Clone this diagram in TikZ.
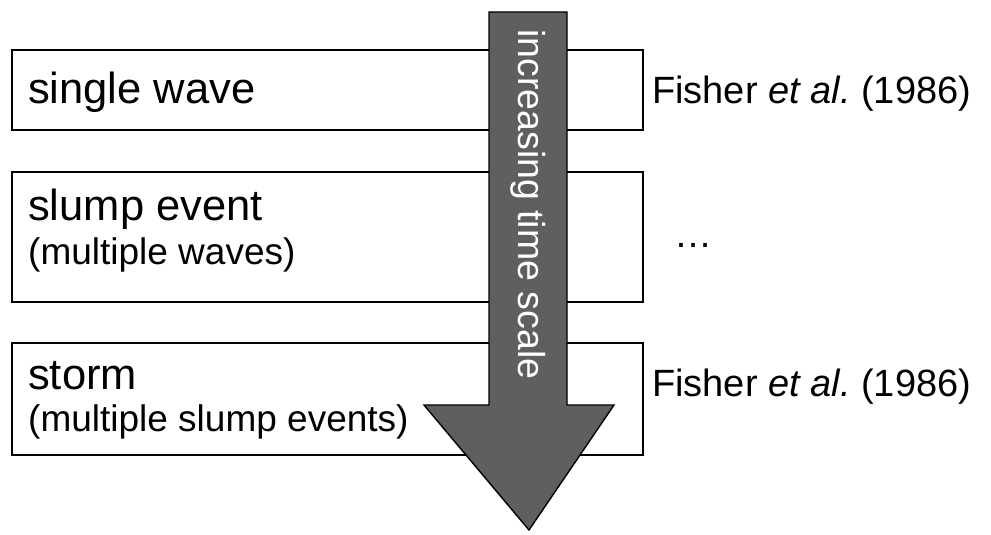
\documentclass[tikz,border=0pt]{standalone}
\usepackage{fontspec}
\setmainfont{Liberation Sans}
\frenchspacing
\begin{document}
\begin{tikzpicture}[x=1pt,y=-1pt,
  levelbox/.style={draw=black, line width=1.4pt, fill=white},
  mainlbl/.style={anchor=base west, inner sep=0pt, font=\fontsize{43.5}{50}\selectfont},
  sublbl/.style={anchor=base west, inner sep=0pt, font=\fontsize{37}{44}\selectfont},
  reflbl/.style={anchor=base west, inner sep=0pt, font=\fontsize{38}{44}\selectfont},
  timearrow/.style={draw=black, line width=1.4pt, fill=arrowgray, line join=miter},
]
\definecolor{arrowgray}{RGB}{95,95,95}
\useasboundingbox (0,0) rectangle (991,535);

% the three levels of time scale
\draw[levelbox] (12,50) rectangle (643,130);
\draw[levelbox] (12,172) rectangle (643,302);
\draw[levelbox] (12,343) rectangle (643,455);

\node[mainlbl] (wave) at (28,103) {single wave};
\node[mainlbl] (slump) at (28,220) {slump event};
\node[sublbl] (slumpsub) at (28,264) {(multiple waves)};
\node[mainlbl] (storm) at (28,389) {storm};
\node[sublbl] (stormsub) at (28,431) {(multiple slump events)};

% references for each level
\node[reflbl] (ref1) at (652,103) {Fisher {\itshape et al.}\ (1986)};
\node[reflbl] (ref2) at (674,247) {…};
\node[reflbl] (ref3) at (652,396) {Fisher {\itshape et al.}\ (1986)};

% the time-scale arrow drawn over the boxes
\draw[timearrow] (489,12) -- (567,12) -- (567,405) -- (614,405)
  -- (529,530) -- (424,405) -- (489,405) -- cycle;
\node[anchor=west, inner sep=0pt, rotate=-90, text=white,
  font=\fontsize{37.5}{44}\selectfont] (scale) at (528,29) {increasing time scale};
\end{tikzpicture}
\end{document}
